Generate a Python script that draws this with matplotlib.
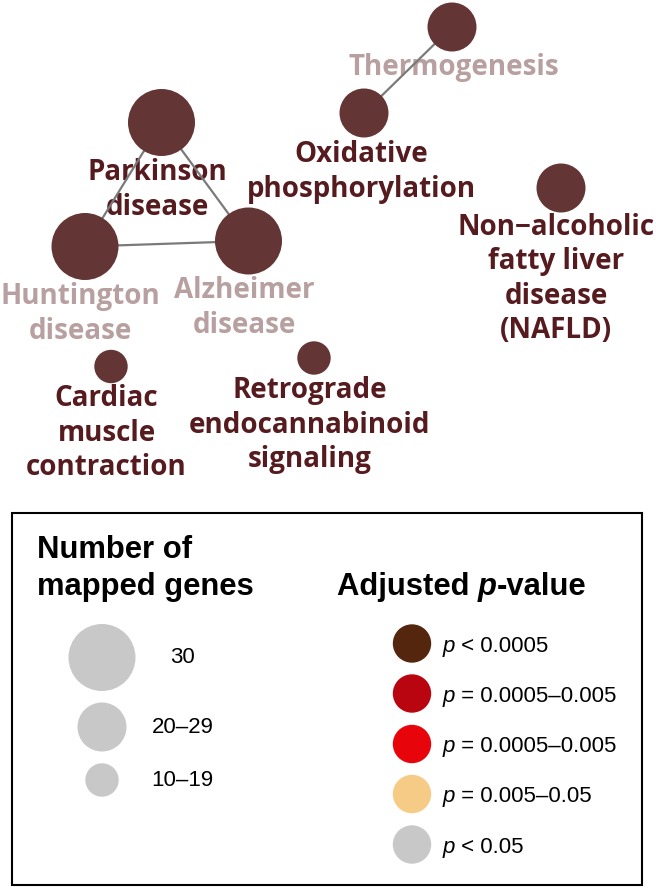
import matplotlib
matplotlib.use("Agg")
import matplotlib.pyplot as plt
from matplotlib.patches import Rectangle

# ---------------- data ----------------
pathways = ["Thermogenesis", "Oxidative phosphorylation", "Parkinson disease",
            "Huntington disease", "Alzheimer disease",
            "Non-alcoholic fatty liver disease (NAFLD)",
            "Cardiac muscle contraction", "Retrograde endocannabinoid signaling"]
labels = ["Thermogenesis", "Oxidative\nphosphorylation", "Parkinson\ndisease",
          "Huntington\ndisease", "Alzheimer\ndisease",
          "Non\u2212alcoholic\nfatty liver\ndisease\n(NAFLD)",
          "Cardiac\nmuscle\ncontraction", "Retrograde\nendocannabinoid\nsignaling"]
gene_class = ["20\u201329", "20\u201329", "30", "30", "30", "20\u201329", "10\u201319", "10\u201319"]
label_faded = [True, False, False, True, True, False, False, False]
edges = [("Thermogenesis", "Oxidative phosphorylation"),
         ("Parkinson disease", "Huntington disease"),
         ("Parkinson disease", "Alzheimer disease"),
         ("Huntington disease", "Alzheimer disease")]

size_classes = ["30", "20\u201329", "10\u201319"]
pvalue_classes = ["< 0.0005", "= 0.0005\u20130.005", "= 0.0005\u20130.005",
                  "= 0.005\u20130.05", "< 0.05"]

# ---------------- layout / style ----------------
node_xy = {"Thermogenesis": (452, 27), "Oxidative phosphorylation": (364, 113),
           "Parkinson disease": (161.5, 122.5), "Huntington disease": (85, 246.5),
           "Alzheimer disease": (248.5, 241), "Non-alcoholic fatty liver disease (NAFLD)": (561, 188),
           "Cardiac muscle contraction": (111, 366.5), "Retrograde endocannabinoid signaling": (314, 358)}
label_xy = {"Thermogenesis": (454, 68), "Oxidative phosphorylation": (361, 172),
            "Parkinson disease": (157, 190), "Huntington disease": (80, 314),
            "Alzheimer disease": (244, 308), "Non-alcoholic fatty liver disease (NAFLD)": (556, 279),
            "Cardiac muscle contraction": (106.5, 433), "Retrograde endocannabinoid signaling": (310, 425)}
radius_px = {"30": 33.5, "20\u201329": 24.5, "10\u201319": 16.7}
pv_colors = ["#53260d", "#b80510", "#e8040b", "#f6cb86", "#c8c8c8"]
node_color = "#643535"
dark_lab = "#561b1f"
light_lab = "#b89fa0"

W, H, DPI = 656, 888, 100
fig = plt.figure(figsize=(W / DPI, H / DPI), dpi=DPI)
ax = fig.add_axes([0, 0, 1, 1])
ax.set_xlim(0, W)
ax.set_ylim(H, 0)
ax.axis("off")


def s_of(r):
    return (2 * r * 72 / DPI) ** 2


# edges
for a, b in edges:
    (x1, y1), (x2, y2) = node_xy[a], node_xy[b]
    ax.plot([x1, x2], [y1, y2], color="#7a7a7a", lw=1.6, zorder=3, solid_capstyle="butt")

# nodes
xs = [node_xy[p][0] for p in pathways]
ys = [node_xy[p][1] for p in pathways]
ss = [s_of(radius_px[g]) for g in gene_class]
ax.scatter(xs, ys, s=ss, color=node_color, edgecolors="none", zorder=4)

# node labels
for p, lab, faded in zip(pathways, labels, label_faded):
    x, y = label_xy[p]
    ax.text(x, y, lab, ha="center", va="center", fontsize=20, fontweight="bold",
            family=["Open Sans", "DejaVu Sans"], color=light_lab if faded else dark_lab,
            linespacing=1.24, zorder=2)

# ---------------- legend box ----------------
ax.add_patch(Rectangle((11.7, 513.3), 641.8 - 11.7, 885 - 513.3, fill=False,
                       edgecolor="black", lw=1.5, zorder=1))

LF = "Liberation Sans"
fig.canvas.draw()
renderer = fig.canvas.get_renderer()


def pieces(x, y, parts, size, color="black"):
    """Draw text pieces left to right on a common baseline (y in data px)."""
    cur = x
    for txt, weight, style in parts:
        t = ax.text(cur, y, txt, ha="left", va="baseline", fontsize=size,
                    fontweight=weight, fontstyle=style, family=LF, color=color)
        bb = t.get_window_extent(renderer=renderer)
        cur += bb.width


# size legend
ax.text(37, 558, "Number of", ha="left", va="baseline", fontsize=22.3,
        fontweight="bold", family=LF)
ax.text(37, 595, "mapped genes", ha="left", va="baseline", fontsize=22.3,
        fontweight="bold", family=LF)
size_y = [657.5, 727, 780]
ax.scatter([102] * len(size_classes), size_y,
           s=[s_of(radius_px[c]) for c in size_classes], color="#c8c8c8",
           edgecolors="none", zorder=4)
for c, yy in zip(size_classes, size_y):
    ax.text(182.5, yy, c, ha="center", va="center", fontsize=16, family=LF)

# p-value legend
pieces(337, 595, [("Adjusted ", "bold", "normal"), ("p", "bold", "italic"),
                  ("-value", "bold", "normal")], 22.3)
pv_y = [643.5, 693.5, 744, 794, 844.5]
ax.scatter([412] * len(pv_colors), pv_y, s=s_of(19.2), color=pv_colors,
           edgecolors="none", zorder=4)
for c, yy in zip(pvalue_classes, pv_y):
    pieces(442.5, yy + 8, [("p", "normal", "italic"), (" " + c, "normal", "normal")], 16)

fig.savefig("out.png", dpi=DPI)
